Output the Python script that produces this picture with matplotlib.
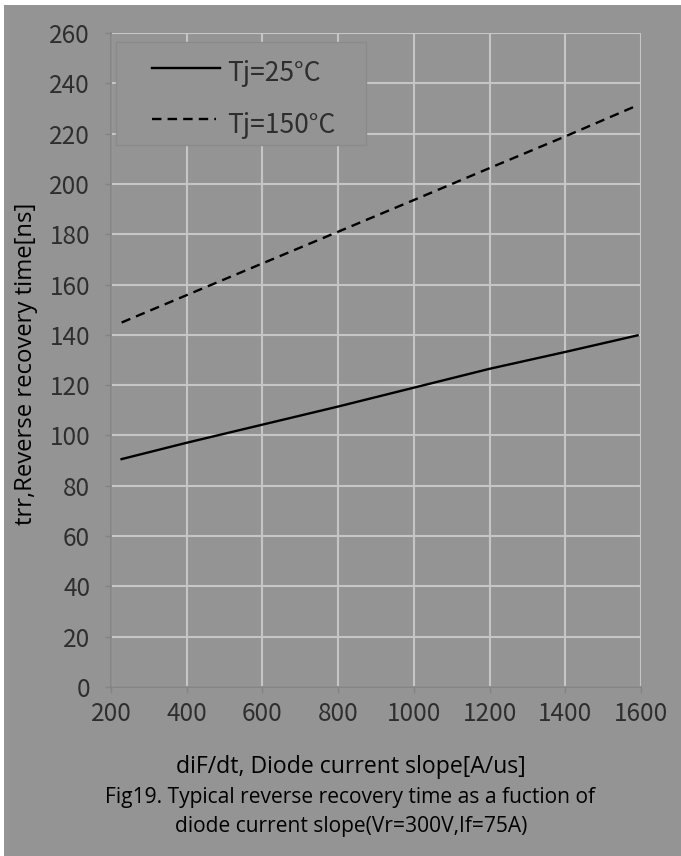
import matplotlib
matplotlib.use("Agg")
import matplotlib.pyplot as plt
from matplotlib.patches import Rectangle
from matplotlib.lines import Line2D

# ---- data ----
x_25 = [228, 400, 600, 800, 1000, 1200, 1400, 1591]
y_25 = [90.6, 97.1, 104.3, 111.5, 119.0, 126.5, 133.2, 139.8]
x_150 = [228, 400, 600, 800, 1000, 1200, 1400, 1590]
y_150 = [144.9, 155.8, 168.4, 181.0, 193.6, 206.3, 218.9, 231.2]
labels = ["Tj=25\u00b0C", "Tj=150\u00b0C"]
x_ticks = [200, 400, 600, 800, 1000, 1200, 1400, 1600]
y_ticks = list(range(0, 261, 20))

FONT = ["Noto Sans CJK SC", "DejaVu Sans"]
LABFONT = ["Open Sans", "DejaVu Sans"]
plt.rcParams["font.family"] = FONT

W, H = 681, 856
BG = "#949494"
GRID = "#c6c6c6"
AX = "#838383"
TXT = "#2e2e2e"


def fx(px):
    return px / W


def fy(py):
    return 1 - py / H


fig = plt.figure(figsize=(W / 100, H / 100), dpi=100, facecolor="white")
fig.patches.append(Rectangle((fx(4), 0), 1, fy(5), transform=fig.transFigure,
                             facecolor=BG, edgecolor="none", zorder=-10))

ax = fig.add_axes([fx(111), fy(687), 530 / W, 654 / H])
ax.set_facecolor(BG)
styles = [dict(color="black", lw=1.7, ls="-"),
          dict(color="black", lw=1.7, ls=(0, (4.0, 2.6)))]
ax.plot(x_25, y_25, label=labels[0], zorder=3, **styles[0])
ax.plot(x_150, y_150, label=labels[1], zorder=3, **styles[1])

ax.set_xlim(200, 1600)
ax.set_ylim(0, 260)
ax.set_xticks(x_ticks)
ax.set_yticks(y_ticks)
ax.grid(True, color=GRID, lw=1.5)
ax.set_axisbelow(True)
for s in ["top", "right"]:
    ax.spines[s].set_visible(False)
for s in ["left", "bottom"]:
    ax.spines[s].set_color(AX)
    ax.spines[s].set_linewidth(1.2)
ax.tick_params(axis="both", direction="out", length=4, width=1.0, color=AX,
               labelsize=17.5, labelcolor=TXT)
ax.tick_params(axis="y", pad=11)
ax.tick_params(axis="x", pad=6)
for t in ax.get_xticklabels() + ax.get_yticklabels():
    t.set_fontweight("light")

# ---- legend (drawn as a framed box with handles) ----
fig.patches.append(Rectangle((fx(116), fy(145)), (366 - 116) / W, (145 - 41.7) / H,
                             transform=fig.transFigure, facecolor=BG,
                             edgecolor="#8a8a8a", lw=1.0, zorder=5))
leg_rows = [(67.7, 81.0, 220), (119.3, 132.7, 216)]
for (ly, tb, xe), lab, st in zip(leg_rows, labels, styles):
    fig.add_artist(Line2D([fx(152), fx(xe)], [fy(ly), fy(ly)], transform=fig.transFigure,
                          zorder=6, **st))
    fig.text(fx(227), fy(tb), lab, ha="left", va="baseline", fontsize=19,
             color=TXT, fontweight="light", zorder=6)

fig.text(fx(26), fy(364), "trr,Reverse recovery time[ns]", rotation=90,
         ha="center", va="center", fontsize=17.2, color="black", family=LABFONT)
fig.text(fx(351), fy(773), "diF/dt, Diode current slope[A/us]",
         ha="center", va="baseline", fontsize=16.6, color="black", family=LABFONT)
fig.text(fx(350), fy(803), "Fig19. Typical reverse recovery time as a fuction of",
         ha="center", va="baseline", fontsize=15.1, color="black", family=LABFONT)
fig.text(fx(351), fy(832), "diode current slope(Vr=300V,If=75A)",
         ha="center", va="baseline", fontsize=15.1, color="black", family=LABFONT)

fig.savefig("out.png", dpi=100, facecolor=fig.get_facecolor())
